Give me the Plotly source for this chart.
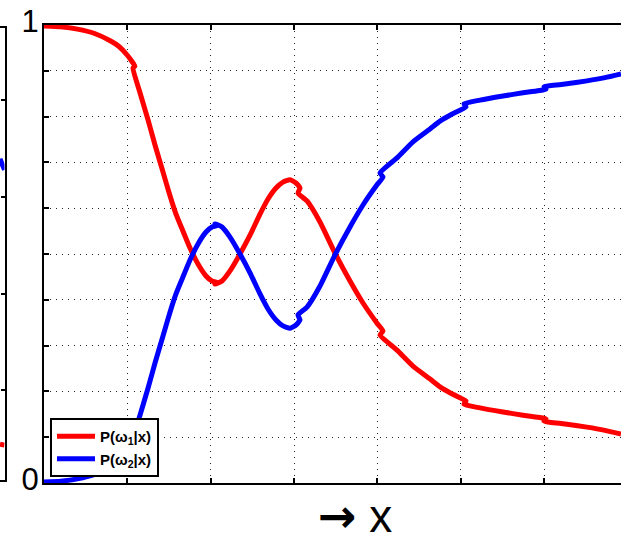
import plotly.graph_objects as go

# Sample positions along x (short backward steps reproduce the segment joints)
x_pts = [0.0, 0.2, 0.4, 0.6, 0.8, 0.9, 1.0, 1.09,
         1.068, 1.152, 1.248, 1.332, 1.428, 1.512, 1.584, 1.656, 1.752, 1.848, 1.944, 2.016, 2.076,
         2.052, 2.136, 2.232, 2.352, 2.472, 2.592, 2.688, 2.784, 2.868, 2.952, 3.024, 3.072,
         3.048, 3.156, 3.312, 3.492, 3.672, 3.828, 3.996, 4.068,
         4.032, 4.236, 4.428, 4.632, 4.752, 4.872, 4.992, 5.064,
         5.04, 5.232, 5.508, 5.748, 6.024,
         6.0, 6.252, 6.516, 6.732, 6.924]

# Posterior of class 1
p_w1 = [0.998, 0.996, 0.991, 0.982, 0.965, 0.953, 0.934, 0.910,
        0.906, 0.852, 0.793, 0.738, 0.679, 0.627, 0.587, 0.555, 0.513, 0.478, 0.452, 0.441, 0.438,
        0.434, 0.441, 0.463, 0.500, 0.541, 0.587, 0.620, 0.644, 0.657, 0.662, 0.655, 0.644,
        0.633, 0.616, 0.570, 0.502, 0.441, 0.393, 0.349, 0.332,
        0.323, 0.290, 0.255, 0.227, 0.210, 0.197, 0.186, 0.179,
        0.172, 0.164, 0.155, 0.148, 0.140,
        0.135, 0.129, 0.122, 0.115, 0.107]

# Posterior of class 2
p_w2 = [0.002, 0.004, 0.009, 0.018, 0.035, 0.047, 0.066, 0.090,
        0.094, 0.148, 0.207, 0.262, 0.321, 0.373, 0.413, 0.445, 0.487, 0.522, 0.548, 0.559, 0.562,
        0.566, 0.559, 0.537, 0.500, 0.459, 0.413, 0.380, 0.356, 0.343, 0.338, 0.345, 0.356,
        0.367, 0.384, 0.430, 0.498, 0.559, 0.607, 0.651, 0.668,
        0.677, 0.710, 0.745, 0.773, 0.790, 0.803, 0.814, 0.821,
        0.828, 0.836, 0.845, 0.852, 0.860,
        0.865, 0.871, 0.878, 0.885, 0.893]

# Edge of the neighbouring panel on the left
side_x = [0.0, 1.0]
side_red = [0.088, 0.086]
side_blue = [0.679, 0.656]
side_ticks = [0.2, 0.4, 0.6, 0.8]

y_ticks = [0.0, 0.1, 0.2, 0.3, 0.4, 0.5, 0.6, 0.7, 0.8, 0.9, 1.0]
y_ticktext = ["0", "", "", "", "", "", "", "", "", "", "1"]
x_ticks = [0, 1, 2, 3, 4, 5, 6]

W, H = 621, 533
FONT = "Liberation Sans, Arial, Helvetica, sans-serif"

curve_line = dict(width=5, shape="spline", smoothing=0.5)

fig = go.Figure()
fig.add_trace(go.Scatter(x=x_pts, y=p_w1, mode="lines",
                         name="<b>P(ω<sub>1</sub>|x)</b>",
                         line=dict(color="#ff0000", **curve_line)))
fig.add_trace(go.Scatter(x=x_pts, y=p_w2, mode="lines",
                         name="<b>P(ω<sub>2</sub>|x)</b>",
                         line=dict(color="#0000ff", **curve_line)))

fig.add_trace(go.Scatter(x=side_x, y=side_red, mode="lines", xaxis="x2", yaxis="y2",
                         showlegend=False, line=dict(color="#ff0000", width=5)))
fig.add_trace(go.Scatter(x=side_x, y=side_blue, mode="lines", xaxis="x2", yaxis="y2",
                         showlegend=False, line=dict(color="#0000ff", width=5)))

grid = dict(showgrid=True, gridcolor="#222222", gridwidth=1, griddash="1px,5px")

arrow_x = ('<span style="font-family:DejaVu Sans"><b>→</b></span> x')

fig.update_layout(
    width=W, height=H,
    margin=dict(l=0, r=0, t=25, b=50),
    paper_bgcolor="white", plot_bgcolor="white",
    font=dict(family=FONT, color="black"),
    xaxis=dict(domain=[44 / W, 1], range=[0, 6.924], tickvals=x_ticks,
               showticklabels=False, ticks="inside", ticklen=5, tickwidth=2,
               tickcolor="black", showline=True, linecolor="black", linewidth=2,
               mirror="ticks", zeroline=False, **grid),
    yaxis=dict(domain=[0, 1], range=[0, 1], tickvals=y_ticks, ticktext=y_ticktext,
               ticks="inside", ticklen=5, tickwidth=2, tickcolor="black",
               showline=True, linecolor="black", linewidth=2, mirror=False,
               zeroline=False, tickfont=dict(size=31, family=FONT, color="black"),
               ticklabelshift=-4, ticklabelstandoff=-3, **grid),
    xaxis2=dict(domain=[0, 4.5 / W], range=[0, 1], anchor="y2", showgrid=False,
                zeroline=False, showticklabels=False, ticks="", showline=True,
                linecolor="black", linewidth=2, mirror=True),
    yaxis2=dict(domain=[3 / 458, 455 / 458], range=[0.0137, 0.95], anchor="x2",
                side="right", showgrid=False, zeroline=False, showticklabels=False,
                tickvals=side_ticks, ticks="inside", ticklen=4, tickwidth=2,
                tickcolor="black", showline=True, linecolor="black", linewidth=2),
    legend=dict(x=50 / W, y=(483 - 418) / 458, xanchor="left", yanchor="top",
                bgcolor="white", bordercolor="black", borderwidth=2, itemwidth=38,
                font=dict(size=15, family=FONT, color="black")),
    showlegend=True,
    annotations=[dict(text=arrow_x, x=355 / W, y=(483 - 516) / 458, xref="paper",
                      yref="paper", xanchor="center", yanchor="middle",
                      showarrow=False, font=dict(size=46, family=FONT, color="black"))],
)

fig.write_html("out.html")
